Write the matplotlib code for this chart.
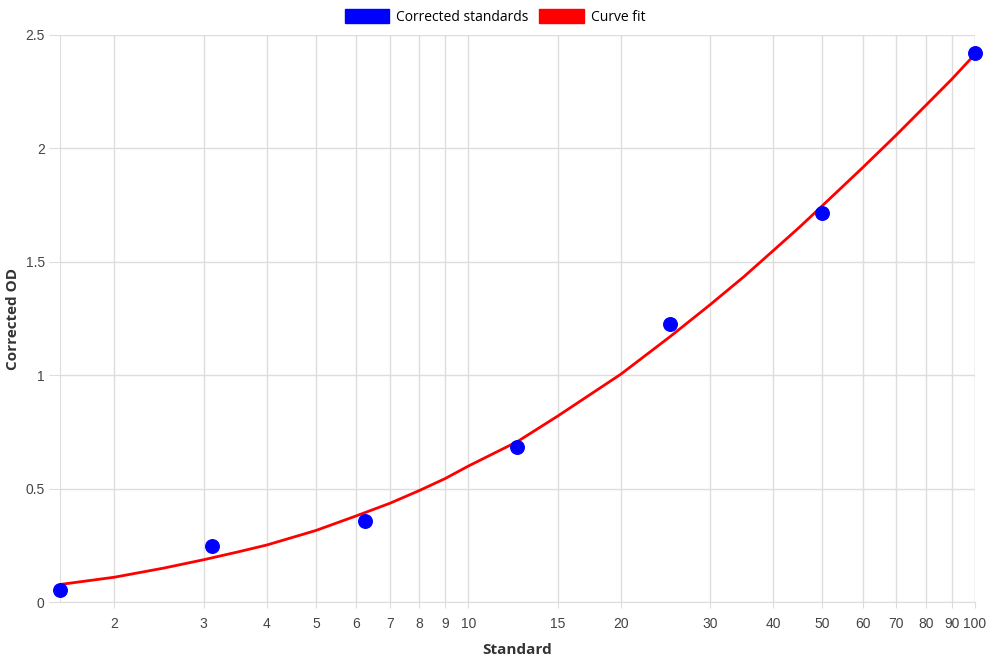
import matplotlib
matplotlib.use("Agg")
import matplotlib.pyplot as plt
from matplotlib.patches import Patch
from matplotlib.ticker import FixedLocator, NullLocator

# standards (points)
std_x = [1.5625, 3.125, 6.25, 12.5, 25, 50, 100]
std_od = [0.054, 0.248, 0.357, 0.686, 1.225, 1.717, 2.419]

# curve fit
fit_x = [1.5625, 2, 2.5, 3, 3.5, 4, 5, 6, 7, 8, 9, 10, 12.5, 15, 20, 25, 30, 35, 40, 45, 50,
         60, 70, 80, 90, 100]
fit_od = [0.078, 0.110, 0.150, 0.187, 0.221, 0.252, 0.316, 0.380, 0.436, 0.492, 0.545, 0.600,
          0.708, 0.820, 1.005, 1.170, 1.311, 1.435, 1.550, 1.652, 1.748,
          1.915, 2.060, 2.190, 2.305, 2.415]

x_ticks = [2, 3, 4, 5, 6, 7, 8, 9, 10, 15, 20, 30, 40, 50, 60, 70, 80, 90, 100]
y_ticks = [0, 0.5, 1, 1.5, 2, 2.5]

grid_c = "#dddddd"
tick_c = "#444444"

fig = plt.figure(figsize=(9.9, 6.6), dpi=100)
ax = fig.add_axes([0.0606, 0.0876, 0.9242, 0.8594])

ax.plot(fit_x, fit_od, color="red", lw=2, zorder=3, solid_joinstyle="round")
ax.scatter(std_x, std_od, s=95, color="blue", zorder=4, clip_on=False)

ax.set_xscale("log")
ax.set_xlim(1.5625, 100)
ax.set_ylim(0, 2.5)

ax.xaxis.set_major_locator(FixedLocator(x_ticks))
ax.xaxis.set_minor_locator(NullLocator())
ax.set_xticklabels([str(t) for t in x_ticks])
ax.set_yticks(y_ticks)
ax.set_yticklabels(["0", "0.5", "1", "1.5", "2", "2.5"])

ax.grid(True, color=grid_c, lw=1)
ax.set_axisbelow(True)
for s in ["top", "right"]:
    ax.spines[s].set_visible(False)
ax.spines["left"].set_color(grid_c)
ax.spines["bottom"].set_color(grid_c)
ax.axvline(100, color=grid_c, lw=1, zorder=0)
ax.tick_params(axis="y", length=8, color=grid_c, labelcolor=tick_c, labelsize=10, pad=3)
ax.tick_params(axis="x", length=4, color=grid_c, labelcolor=tick_c, labelsize=10, pad=7)
for lab in ax.get_xticklabels() + ax.get_yticklabels():
    lab.set_family("Liberation Sans")

ax.set_xlabel("Standard", fontsize=11, fontweight="bold", color="#333333", family="Open Sans", labelpad=8)
ax.set_ylabel("Corrected OD", fontsize=11, fontweight="bold", color="#333333", family="Open Sans", labelpad=4)

handles = [Patch(facecolor="blue", edgecolor="blue", label="Corrected standards"),
           Patch(facecolor="red", edgecolor="red", label="Curve fit")]
fig.legend(handles=handles, loc="upper center", bbox_to_anchor=(0.5, 1.005), ncol=2,
           frameon=False, handlelength=3.2, handleheight=1.1, handletextpad=0.5,
           columnspacing=0.8, prop={"family": "Open Sans", "size": 10})

fig.savefig("out.png", dpi=100)
